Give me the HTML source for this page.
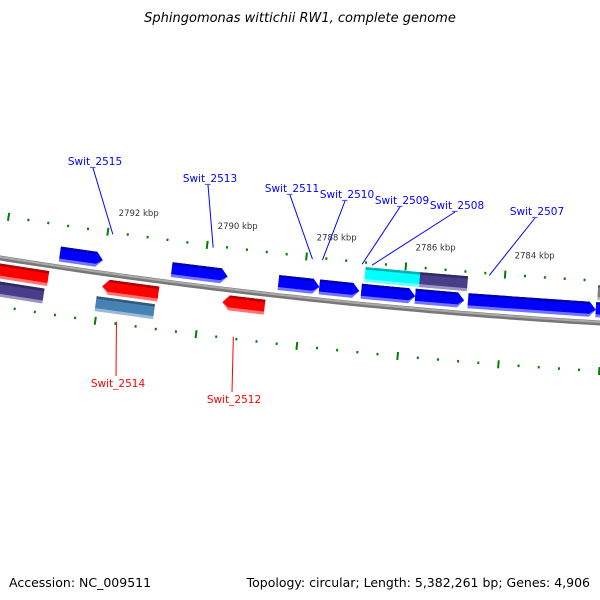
<!DOCTYPE html>
<html><head><meta charset="utf-8"><style>
html,body{margin:0;padding:0;background:#fff;}
svg{display:block;font-family:"DejaVu Sans","Liberation Sans",sans-serif;}
</style></head><body>
<svg id="map" width="600" height="600" viewBox="0 0 600 600" xmlns="http://www.w3.org/2000/svg">
<text x="300" y="22" text-anchor="middle" font-size="13" font-style="italic" fill="#000">Sphingomonas wittichii RW1, complete genome</text>
<text x="9" y="587" font-size="12.5" fill="#000">Accession: NC_009511</text>
<text x="590" y="587" text-anchor="end" font-size="12.5" fill="#000">Topology: circular; Length: 5,382,261 bp; Genes: 4,906</text>
<g id="ticks"></g>
<path id="backbone" fill="none"/>
<g id="genes"></g>
<g id="labels"></g>
</svg>
<script>
// gene data (kbp)
const geneNames = ['Swit_2515','Swit_2513','Swit_2511','Swit_2510','Swit_2509','Swit_2508','Swit_2507','next-fwd','cds-a','cds-b','cds-c','rev-a','Swit_2514','Swit_2512','rev-cds-a','rev-cds-b'];
const geneStart = [2792.88,2790.64,2788.50,2787.68,2786.84,2785.76,2784.70,2782.14,2786.80,2785.70,2782.12,2794.44,2791.96,2789.56,2794.44,2792.04];
const geneEnd   = [2792.02,2789.52,2787.68,2786.88,2785.76,2784.78,2782.14,2781.60,2785.70,2784.74,2781.60,2793.04,2790.84,2788.72,2793.08,2790.88];
const geneRow   = [-13,-13,-13,-13,-13,-13,-13,-13,-30,-30,-30,13,13,13,31,31];
const geneArrow = [1,1,1,1,1,1,1,0,0,0,0,0,-1,-1,0,0];
const geneColor = ['#0000ff','#0000ff','#0000ff','#0000ff','#0000ff','#0000ff','#0000ff','#0000ff','#00ffff','#483d8b','#808080','#ff0000','#ff0000','#ff0000','#483d8b','#4682b4'];
// labels
const labelNames = ['Swit_2515','Swit_2513','Swit_2511','Swit_2510','Swit_2509','Swit_2508','Swit_2507','Swit_2514','Swit_2512'];
const labelKbp   = [2791.90,2789.88,2787.88,2787.68,2786.88,2786.68,2784.32,2791.58,2789.26];
const labelTextX = [95,210,292,347,402,457,537,118,234];
const labelTextY = [165,182,192,198,204,209,215,387,403];
const labelSide  = [-1,-1,-1,-1,-1,-1,-1,1,1];
// tick labels
const tickLabelKbp = [2792,2790,2788,2786,2784];
const tickLabelText = ['2792 kbp','2790 kbp','2788 kbp','2786 kbp','2784 kbp'];

const NS='http://www.w3.org/2000/svg';
function X(k){return 102+(2792-k)*50;}
function cy(x){return 258+0.1583*x-8.33e-5*x*x;}
function sl(x){return 0.1583-2*8.33e-5*x;}
function P(k,off){const x=X(k),s=sl(x),n=Math.sqrt(1+s*s);return [x-s*off/n, cy(x)+off/n];}
function el(t,a,p){const e=document.createElementNS(NS,t);for(const k in a)e.setAttribute(k,a[k]);p.appendChild(e);return e;}
function pts(a){return a.map(p=>p[0].toFixed(1)+','+p[1].toFixed(1)).join(' ');}

// backbone
let d='';for(let x=-10;x<=610;x+=10){d+=(x==-10?'M':'L')+x+','+cy(x).toFixed(1);}
const bb=document.getElementById('backbone');
bb.setAttribute('d',d);bb.setAttribute('stroke','#777');bb.setAttribute('stroke-width','5');
const bb2=el('path',{d:d,fill:'none',stroke:'#aaa','stroke-width':'2',transform:'translate(0,-1)'},document.getElementById('map'));


document.getElementById('map').insertBefore(bb2,document.getElementById('genes'));

// ticks
const tg=document.getElementById('ticks');
for(let i=-10;i<=35;i++){
  const k=2794-i*0.4; const x=X(k); if(x<-10||x>610)continue;
  const major=Math.abs(Math.round(k)-k)<1e-6 && Math.round(k)%2===0;
  [-42,48].forEach(off=>{
    const len=major?8:2.5;
    const a=P(k,off-len/2),b=P(k,off+len/2);
    const t=el('line',{x1:a[0],y1:a[1],x2:b[0],y2:b[1],stroke:'#008000','stroke-width':major?2:2},tg);
    
    
  });
}
tickLabelKbp.forEach((k,i)=>{
  const p=P(k,-62);
  const t=el('text',{x:p[0]+8,y:p[1]+4,'font-size':'8.5',fill:'#333'},tg);
  t.textContent=tickLabelText[i];
  
  
});

// genes
const gg=document.getElementById('genes');
function shade(c,f){const n=parseInt(c.slice(1),16);let r=n>>16,g=(n>>8)&255,b=n&255;
  if(f<0){r*=1+f;g*=1+f;b*=1+f;}else{r+=(255-r)*f;g+=(255-g)*f;b+=(255-b)*f;}
  return 'rgb('+[r,g,b].map(v=>Math.round(v)).join(',')+')';}
geneNames.forEach((nm,i)=>{
  const s=geneStart[i],e=geneEnd[i],off=geneRow[i],h=15,tip=0.13;
  const g=el('g',{},gg);
  
  
  function shape(o1,o2){
    let a=s,b=e;const arr=[];
    if(geneArrow[i]===1){b=e+tip;arr.push(P(a,o1),P(b,o1));if(o2>=off+h/2-0.1||o1<=off-h/2+0.1){}arr.push(P(e,off),P(b,o2),P(a,o2));}
    else if(geneArrow[i]===-1){a=s-tip;arr.push(P(s,off),P(a,o1),P(b,o1),P(b,o2),P(a,o2));}
    else arr.push(P(a,o1),P(b,o1),P(b,o2),P(a,o2));
    return arr;}
  el('polygon',{points:pts(shape(off-h/2,off+h/2)),fill:shade(geneColor[i],0.45)},g);
  el('polygon',{points:pts(shape(off-h/2,off+h/2-3)),fill:geneColor[i]},g);
  const top=[P(geneArrow[i]===-1?s-tip:s,off-h/2),P(geneArrow[i]===1?e+tip:e,off-h/2),P(geneArrow[i]===1?e+tip:e,off-h/2+2.5),P(geneArrow[i]===-1?s-tip:s,off-h/2+2.5)];
  el('polygon',{points:pts(top),fill:shade(geneColor[i],-0.3)},g);
});

// labels
const lg=document.getElementById('labels');
labelNames.forEach((nm,i)=>{
  const side=labelSide[i],col=side<0?'#0000ff':'#ff0000';
  const p=P(labelKbp[i],side<0?-42:48);
  const tx=labelTextX[i],ty=labelTextY[i];
  const ly=side<0?ty+3:ty-11;
  const ln=el('line',{x1:tx-2,y1:ly,x2:p[0],y2:p[1]+(side<0?2:-2),stroke:col,'stroke-width':1},lg);
  
  
  const t=el('text',{x:tx,y:ty,'text-anchor':'middle','font-size':'10.5',fill:col},lg);
  t.textContent=nm;
  
  
});
</script>
</body></html>
